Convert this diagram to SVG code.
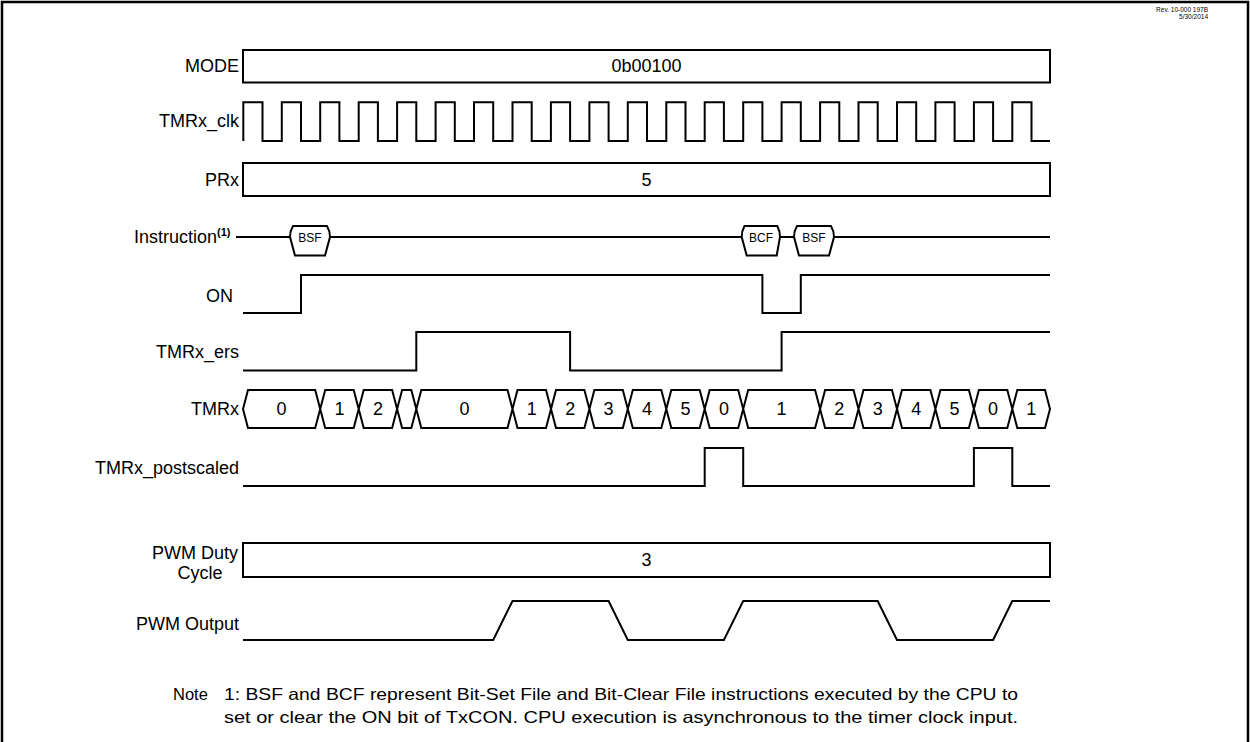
<svg xmlns="http://www.w3.org/2000/svg" width="1250" height="742" viewBox="0 0 1250 742">
<style>
.lbl{font-family:"Liberation Sans",Arial,sans-serif;font-size:18px;fill:#000;text-anchor:end}
.val{font-family:"Liberation Sans",Arial,sans-serif;font-size:18px;fill:#000;text-anchor:middle}
.ins{font-family:"Liberation Sans",Arial,sans-serif;font-size:12px;fill:#000;text-anchor:middle}
.note{font-family:"Liberation Sans",Arial,sans-serif;font-size:16.5px;fill:#000}
.rev{font-family:"Liberation Sans",Arial,sans-serif;font-size:6.5px;fill:#000;text-anchor:end}
.w{fill:none;stroke:#000;stroke-width:2;stroke-linejoin:miter}
.box{fill:#fff;stroke:#000;stroke-width:2}
</style>
<rect x="0" y="0" width="1250" height="742" fill="#fff"/>
<rect x="2" y="2" width="1246" height="750" fill="none" stroke="#000" stroke-width="2.5"/>
<text class="rev" x="1208" y="12">Rev. 10-000 197B</text>
<text class="rev" x="1208" y="19">5/30/2014</text>

<g id="labels">
<text class="lbl" x="239" y="72">MODE</text>
<text class="lbl" x="239" y="127">TMRx_clk</text>
<text class="lbl" x="239" y="186">PRx</text>
<text class="lbl" x="217" y="243">Instruction</text>
<text x="217" y="236" style="font-family:'Liberation Sans',Arial,sans-serif;font-size:11px;font-weight:bold">(1)</text>
<text class="lbl" x="233" y="302">ON</text>
<text class="lbl" x="239" y="358">TMRx_ers</text>
<text class="lbl" x="239" y="415">TMRx</text>
<text class="lbl" x="239" y="474">TMRx_postscaled</text>
<text class="lbl" x="238" y="559">PWM Duty</text>
<text class="val" x="200" y="579">Cycle</text>
<text class="lbl" x="239" y="630">PWM Output</text>
</g>

<g id="mode">
<rect class="box" x="243" y="50" width="807" height="32.5"/>
<text class="val" x="646.5" y="72">0b00100</text>
</g>

<g id="clk">
<path class="w" d="M243.3,141 V102.3 H262.5 V141 H281.8 V102.3 H301 V141 H320.2 V102.3 H339.4 V141 H358.7 V102.3 H377.9 V141 H397.1 V102.3 H416.3 V141 H435.6 V102.3 H454.8 V141 H474 V102.3 H493.2 V141 H512.5 V102.3 H531.7 V141 H550.9 V102.3 H570.1 V141 H589.4 V102.3 H608.6 V141 H627.8 V102.3 H647 V141 H666.3 V102.3 H685.5 V141 H704.7 V102.3 H723.9 V141 H743.2 V102.3 H762.4 V141 H781.6 V102.3 H800.8 V141 H820.1 V102.3 H839.3 V141 H858.5 V102.3 H877.7 V141 H897 V102.3 H916.2 V141 H935.4 V102.3 H954.6 V141 H973.9 V102.3 H993.1 V141 H1012.3 V102.3 H1031.5 V141 H1050"/>
</g>

<g id="prx">
<rect class="box" x="243" y="163" width="807" height="33"/>
<text class="val" x="646.5" y="186">5</text>
</g>

<g id="instruction">
<path class="w" d="M236,237 H290 M330,237 H741.7 M780,237 H794 M834,237 H1050"/>
<path class="w" stroke-width="1.5" d="M293,226 Q290,231 290,237 L295,255.5 H325 L330,237 Q330,231 327,226 Z"/>
<text class="ins" x="310" y="242">BSF</text>
<path class="w" stroke-width="1.5" d="M744.5,226 Q741.7,231 741.7,237 L746.7,255.5 H776.7 L780,237 Q780,231 777.3,226 Z"/>
<text class="ins" x="761" y="242">BCF</text>
<path class="w" stroke-width="1.5" d="M797,226 Q794,231 794,237 L799,255.5 H829 L834,237 Q834,231 831,226 Z"/>
<text class="ins" x="814" y="242">BSF</text>
</g>

<g id="on">
<path class="w" d="M243,313 H301 V275 H762.4 V313 H800.8 V275 H1050"/>
</g>

<g id="ers">
<path class="w" d="M243,370.5 H416.3 V332 H570.1 V370.5 H781.6 V332 H1050"/>
</g>

<g id="tmrx">
<path class="w" stroke-width="1.5" d="M243,409 L248,390 H315.2 L320.2,409 L315.2,428 H248 Z
M320.2,409 L325.2,390 H353.7 L358.7,409 L353.7,428 H325.2 Z
M358.7,409 L363.7,390 H392.1 L397.1,409 L392.1,428 H363.7 Z
M397.1,409 L402.1,390 H411.3 L416.3,409 L411.3,428 H402.1 Z
M416.3,409 L421.3,390 H507.5 L512.5,409 L507.5,428 H421.3 Z
M512.5,409 L517.5,390 H546 L551,409 L546,428 H517.5 Z
M551,409 L556,390 H584.4 L589.4,409 L584.4,428 H556 Z
M589.4,409 L594.4,390 H622.8 L627.8,409 L622.8,428 H594.4 Z
M627.8,409 L632.8,390 H661.3 L666.3,409 L661.3,428 H632.8 Z
M666.3,409 L671.3,390 H699.7 L704.7,409 L699.7,428 H671.3 Z
M704.7,409 L709.7,390 H738.2 L743.2,409 L738.2,428 H709.7 Z
M743.2,409 L748.2,390 H815.1 L820.1,409 L815.1,428 H748.2 Z
M820.1,409 L825.1,390 H853.5 L858.5,409 L853.5,428 H825.1 Z
M858.5,409 L863.5,390 H892 L897,409 L892,428 H863.5 Z
M897,409 L902,390 H930.4 L935.4,409 L930.4,428 H902 Z
M935.4,409 L940.4,390 H968.9 L973.9,409 L968.9,428 H940.4 Z
M973.9,409 L978.9,390 H1007.3 L1012.3,409 L1007.3,428 H978.9 Z
M1012.3,409 L1017.3,390 H1045 L1050,409 L1045,428 H1017.3 Z"/>
<text class="val" x="281.6" y="415">0</text>
<text class="val" x="339.5" y="415">1</text>
<text class="val" x="377.9" y="415">2</text>
<text class="val" x="464.4" y="415">0</text>
<text class="val" x="531.7" y="415">1</text>
<text class="val" x="570.2" y="415">2</text>
<text class="val" x="608.6" y="415">3</text>
<text class="val" x="647" y="415">4</text>
<text class="val" x="685.5" y="415">5</text>
<text class="val" x="724" y="415">0</text>
<text class="val" x="781.6" y="415">1</text>
<text class="val" x="839.3" y="415">2</text>
<text class="val" x="877.7" y="415">3</text>
<text class="val" x="916.2" y="415">4</text>
<text class="val" x="954.6" y="415">5</text>
<text class="val" x="993.1" y="415">0</text>
<text class="val" x="1031.2" y="415">1</text>
</g>

<g id="postscaled">
<path class="w" d="M243,486 H704.7 V448 H743.2 V486 H973.9 V448 H1012.3 V486 H1050"/>
</g>

<g id="pwmduty">
<rect class="box" x="243" y="543" width="807" height="34"/>
<text class="val" x="646.5" y="566">3</text>
</g>

<g id="pwmout">
<path class="w" d="M243,640 H493.2 L512.5,601 H608.6 L627.8,640 H723.9 L743.2,601 H877.7 L897,640 H993.1 L1012.3,601 H1050"/>
</g>

<g id="note">
<text class="note" x="173" y="700">Note</text>
<text class="note" x="224" y="700" textLength="794" lengthAdjust="spacingAndGlyphs">1:   BSF and BCF represent Bit-Set File and Bit-Clear File instructions executed by the CPU to</text>
<text class="note" x="224" y="723" textLength="794" lengthAdjust="spacingAndGlyphs">set or clear the ON bit of TxCON. CPU execution is asynchronous to the timer clock input.</text>
</g>
</svg>
